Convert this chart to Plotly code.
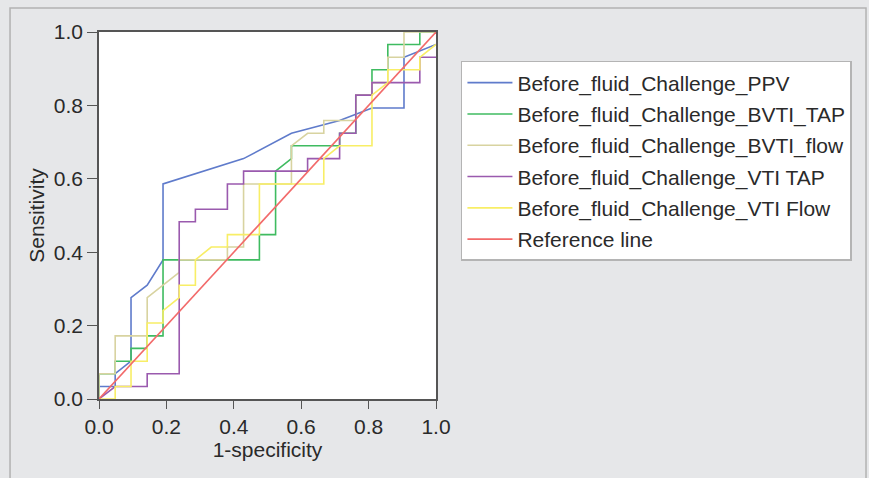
import plotly.graph_objects as go

# Series names
names = [
    "Before_fluid_Challenge_PPV",
    "Before_fluid_Challenge_BVTI_TAP",
    "Before_fluid_Challenge_BVTI_flow",
    "Before_fluid_Challenge_VTI TAP",
    "Before_fluid_Challenge_VTI Flow",
    "Reference line",
]

# ROC curves: 1-specificity (x) and sensitivity (y)
ppv_x = [0, 0, 0.048, 0.048, 0.095, 0.095, 0.143, 0.190, 0.190, 0.429, 0.571, 0.714, 0.810, 0.905, 0.905, 1.0]
ppv_y = [0, 0.034, 0.034, 0.069, 0.103, 0.276, 0.310, 0.379, 0.586, 0.655, 0.724, 0.759, 0.793, 0.793, 0.931, 0.966]

bvti_tap_x = [0, 0, 0.048, 0.048, 0.095, 0.095, 0.143, 0.143, 0.190, 0.190, 0.476, 0.476, 0.524, 0.524,
              0.571, 0.571, 0.714, 0.714, 0.762, 0.762, 0.810, 0.810, 0.857, 0.857, 0.952, 0.952, 1.0]
bvti_tap_y = [0, 0.069, 0.069, 0.103, 0.103, 0.138, 0.138, 0.172, 0.172, 0.379, 0.379, 0.448, 0.448, 0.621,
              0.655, 0.690, 0.690, 0.724, 0.724, 0.828, 0.828, 0.897, 0.897, 0.966, 0.966, 1.0, 1.0]

bvti_flow_x = [0, 0, 0.048, 0.048, 0.143, 0.143, 0.238, 0.238, 0.381, 0.381, 0.429, 0.429, 0.571, 0.571,
               0.619, 0.667, 0.667, 0.714, 0.762, 0.762, 0.810, 0.810, 0.857, 0.857, 0.905, 0.905, 1.0]
bvti_flow_y = [0, 0.069, 0.069, 0.172, 0.172, 0.276, 0.345, 0.379, 0.379, 0.414, 0.414, 0.586, 0.586, 0.690,
               0.724, 0.724, 0.759, 0.759, 0.759, 0.828, 0.828, 0.862, 0.862, 0.931, 0.931, 1.0, 1.0]

vti_tap_x = [0, 0.048, 0.143, 0.143, 0.238, 0.238, 0.286, 0.286, 0.381, 0.381, 0.429, 0.429, 0.619, 0.619,
             0.714, 0.714, 0.762, 0.762, 0.810, 0.810, 0.952, 0.952, 1.0]
vti_tap_y = [0, 0.034, 0.034, 0.069, 0.069, 0.483, 0.483, 0.517, 0.517, 0.586, 0.586, 0.621, 0.621, 0.655,
             0.655, 0.724, 0.724, 0.828, 0.828, 0.862, 0.862, 0.931, 0.931]

vti_flow_x = [0, 0.048, 0.048, 0.095, 0.095, 0.143, 0.143, 0.190, 0.190, 0.238, 0.238, 0.286, 0.286, 0.333,
              0.381, 0.381, 0.476, 0.476, 0.667, 0.667, 0.714, 0.810, 0.810, 0.857, 0.857, 0.952, 0.952, 1.0]
vti_flow_y = [0, 0, 0.034, 0.034, 0.103, 0.103, 0.207, 0.207, 0.241, 0.276, 0.310, 0.310, 0.379, 0.414,
              0.414, 0.448, 0.448, 0.586, 0.586, 0.655, 0.690, 0.690, 0.828, 0.862, 0.897, 0.897, 0.931, 0.966]

ref_x = [0, 1]
ref_y = [0, 1]

tick_vals = [0, 0.2, 0.4, 0.6, 0.8, 1.0]
tick_text = ["0.0", "0.2", "0.4", "0.6", "0.8", "1.0"]

colors = ["#5f7bcb", "#3fbb60", "#d8d3a0", "#9a5aae", "#f8ee66", "#f26a6a"]

series = [
    (ppv_x, ppv_y), (bvti_tap_x, bvti_tap_y), (bvti_flow_x, bvti_flow_y),
    (vti_tap_x, vti_tap_y), (vti_flow_x, vti_flow_y), (ref_x, ref_y),
]

FONT = "Liberation Sans, Arial, sans-serif"
FS = 21
TXT = "#2a2a2a"
BG = "#e6e7e9"

fig = go.Figure()
for (xs, ys), name, c in zip(series, names, colors):
    fig.add_trace(go.Scatter(
        x=xs, y=ys, mode="lines", name=name, legendgroup=name,
        line=dict(color=c, width=1.6),
    ))

axis_common = dict(
    range=[0, 1], tickvals=tick_vals, ticktext=tick_text,
    showgrid=False, zeroline=False, showline=True, mirror=True,
    linecolor="#555555", linewidth=1.6,
    ticks="outside", tickcolor="#555555", tickwidth=1.4,
    tickfont=dict(family=FONT, size=FS, color=TXT),
)

fig.update_layout(
    width=869, height=478,
    margin=dict(l=99, r=433, t=32, b=79),
    paper_bgcolor=BG, plot_bgcolor="white",
    font=dict(family=FONT, size=FS, color=TXT),
    xaxis=dict(**axis_common, ticklen=8,
               title=dict(text="1-specificity", standoff=4,
                          font=dict(family=FONT, size=FS, color=TXT))),
    yaxis=dict(**axis_common, ticklen=10,
               title=dict(text="Sensitivity", standoff=3,
                          font=dict(family=FONT, size=FS, color=TXT))),
    legend=dict(
        x=1.074, y=0.921, xanchor="left", yanchor="top",
        bgcolor="white", bordercolor="#b4b4b4", borderwidth=1.5,
        font=dict(family=FONT, size=FS, color=TXT),
        tracegroupgap=1, itemwidth=45,
    ),
    shapes=[dict(
        type="rect", xref="paper", yref="paper",
        x0=-0.264, x1=2.276, y0=-0.25, y1=1.0654,
        line=dict(color="#b2b2b2", width=1.5), fillcolor="rgba(0,0,0,0)", layer="below",
    )],
)

fig.write_html(
    "out.html",
    config={"displayModeBar": False},
    post_script="document.body.style.margin='0px';document.body.style.background='" + BG + "';",
)
